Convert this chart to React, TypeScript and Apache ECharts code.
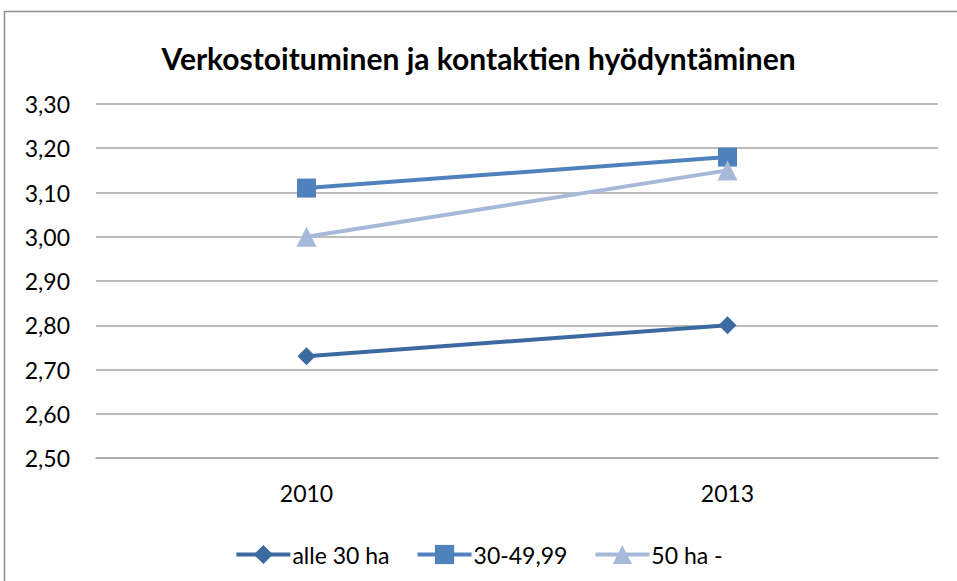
import React, { useEffect, useRef } from "react";
import * as echarts from "echarts";

const categories = ["2010", "2013"];
const alle30 = [2.73, 2.8];
const mid3049 = [3.11, 3.18];
const over50 = [3.0, 3.15];
const seriesNames = ["alle 30 ha", "30-49,99", "50 ha -"];
const titleText = "Verkostoituminen ja kontaktien hyödyntäminen";

export default function App() {
  const ref = useRef<HTMLDivElement>(null);
  useEffect(() => {
    if (!ref.current) return;
    const chart = echarts.init(ref.current, null, { renderer: "svg" });
    const font = "Lato, 'Open Sans', sans-serif";
    chart.setOption({
      animation: false,
      backgroundColor: "#ffffff",
      title: {
        text: titleText,
        left: "center",
        top: 38,
        textStyle: { fontFamily: font, fontSize: 30, fontWeight: "bold", color: "#000" },
      },
      graphic: [
        {
          type: "rect",
          shape: { x: 4.5, y: 11.5, width: 1000, height: 1000 },
          style: { fill: "none", stroke: "#8c8c8c", lineWidth: 1.5 },
          silent: true,
        },
      ],
      legend: {
        bottom: 10,
        left: "center",
        itemWidth: 54,
        itemHeight: 24,
        itemGap: 26,
        lineStyle: { width: 4 },
        textStyle: { fontFamily: font, fontSize: 23, color: "#000", padding: [0, 0, 0, -3] },
        data: seriesNames,
      },
      grid: { left: 96, right: 19, top: 104, bottom: 123 },
      xAxis: {
        type: "category",
        data: categories,
        boundaryGap: true,
        axisLine: { lineStyle: { color: "#a6a6a6", width: 1.5 } },
        axisTick: { show: false },
        axisLabel: { fontFamily: font, fontSize: 23, color: "#000", margin: 23 },
      },
      yAxis: {
        type: "value",
        min: 2.5,
        max: 3.3,
        interval: 0.1,
        axisLine: { show: false },
        axisTick: { show: false },
        splitLine: { lineStyle: { color: "#a6a6a6", width: 1.5 } },
        axisLabel: {
          fontFamily: font,
          fontSize: 23,
          color: "#000",
          margin: 26,
          formatter: (v: number) => v.toFixed(2).replace(".", ","),
        },
      },
      series: [
        {
          name: seriesNames[0],
          type: "line",
          data: alle30,
          symbol: "diamond",
          symbolSize: 18,
          lineStyle: { width: 4, color: "#3b6aa0" },
          itemStyle: { color: "#3b6aa0" },
        },
        {
          name: seriesNames[1],
          type: "line",
          data: mid3049,
          symbol: "rect",
          symbolSize: 19,
          lineStyle: { width: 4, color: "#4f81bd" },
          itemStyle: { color: "#4f81bd" },
        },
        {
          name: seriesNames[2],
          type: "line",
          data: over50,
          symbol: "triangle",
          symbolSize: 20,
          lineStyle: { width: 4, color: "#a7b9d9" },
          itemStyle: { color: "#a7b9d9" },
        },
      ],
    });
    return () => chart.dispose();
  }, []);
  return (
    <div
      ref={ref}
      style={{ position: "absolute", left: 0, top: 0, width: 957, height: 581 }}
    />
  );
}
